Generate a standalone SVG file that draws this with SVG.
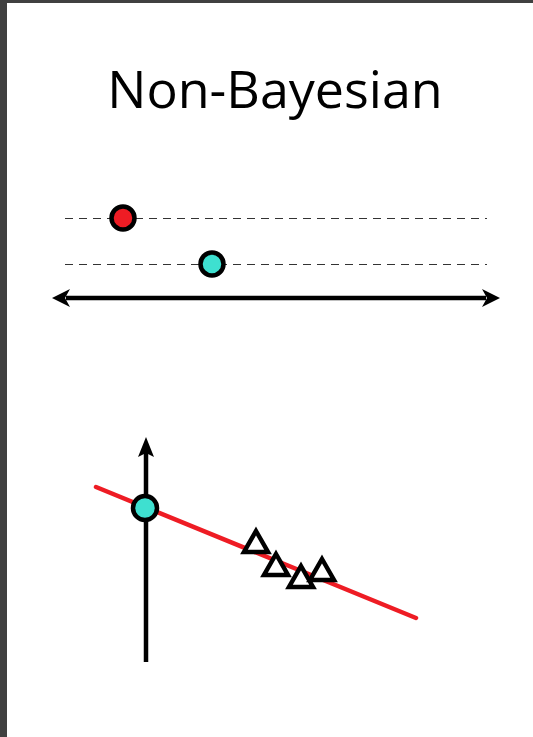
<svg xmlns="http://www.w3.org/2000/svg" width="533" height="737" viewBox="0 0 533 737">
<defs>
<style>
.dash{stroke:#333;stroke-width:1.2;stroke-dasharray:8 6;fill:none}
.axis{stroke:#000;stroke-width:4.5;fill:none}
.head{fill:#000}
.dot{stroke:#000;stroke-width:4.5}
.tri{fill:#fff;stroke:#000;stroke-width:4.5;stroke-linejoin:miter}
.title{font-family:"Open Sans","Noto Sans",sans-serif;font-size:52px;fill:#000}
</style>
</defs>
<rect x="0" y="0" width="533" height="737" fill="#fff"/>
<rect x="0" y="0" width="533" height="3" fill="#404040"/>
<rect x="0" y="0" width="7" height="737" fill="#404040"/>
<g id="title"><text class="title" x="275" y="108" text-anchor="middle">Non-Bayesian</text></g>
<g id="connectors">
<line class="dash" x1="65" y1="218.5" x2="487" y2="218.5"/>
<line class="dash" x1="65" y1="264.5" x2="487" y2="264.5"/>
<line class="axis" x1="66" y1="298" x2="486" y2="298"/>
<path class="head" d="M52,298 L70,289 L65,298 L70,307 Z"/>
<path class="head" d="M500,298 L482,289 L487,298 L482,307 Z"/>
<line class="axis" x1="146" y1="662" x2="146" y2="452"/>
<path class="head" d="M146,437 L138,457 L146,453 L154,457 Z"/>
<line x1="96" y1="487" x2="416" y2="618" stroke="#ee1c24" stroke-width="4.5" stroke-linecap="round"/>
</g>
<g id="red-dot"><circle class="dot" cx="123" cy="218" r="11.5" fill="#ee1c24"/></g>
<g id="cyan-dot"><circle class="dot" cx="212" cy="264" r="11.5" fill="#3ee0d0"/></g>
<g id="cyan-dot-2"><circle class="dot" cx="145" cy="508" r="12" fill="#3ee0d0"/></g>
<g id="tri1"><path class="tri" d="M256,531 L268,552 L244,552 Z"/></g>
<g id="tri2"><path class="tri" d="M276,554 L288,575 L264,575 Z"/></g>
<g id="tri3"><path class="tri" d="M301,566 L313,587 L289,587 Z"/></g>
<g id="tri4"><path class="tri" d="M322,559 L334,580 L310,580 Z"/></g>
</svg>
